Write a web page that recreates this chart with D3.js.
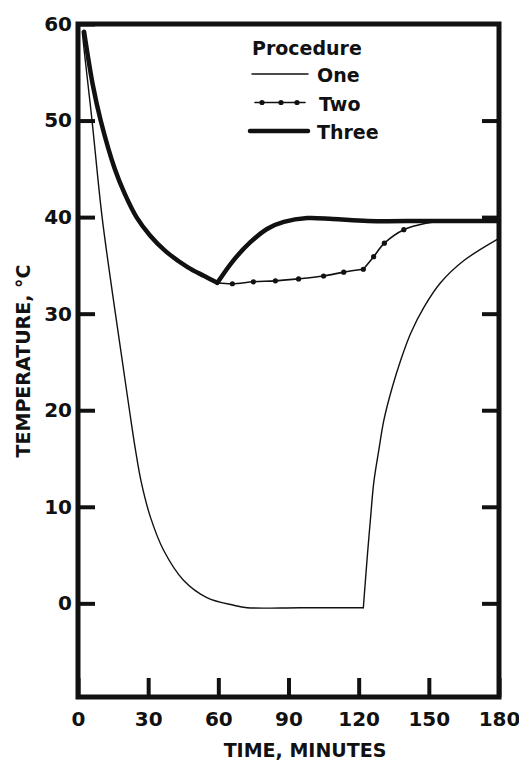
<!DOCTYPE html>
<html>
<head>
<meta charset="utf-8">
<script src="https://cdn.jsdelivr.net/npm/d3@7"></script>
<style>
  body { margin: 0; background: #fff; }
  svg text { font-family: "DejaVu Sans", sans-serif; font-weight: bold; fill: #111; }
</style>
</head>
<body>
<svg id="chart" width="519" height="761"></svg>
<script>
// values (minutes, degrees C)
const oneTime = [1.8, 2.9, 6.0, 10.3, 16, 19, 22, 24.5, 27, 31, 36.6, 45.1, 55.1, 66.6, 72.3, 95, 122,
                 123.8, 125, 126.5, 128.7, 130.8, 134.4, 138, 142.3, 148, 155, 165, 180];
const oneTemp = [59.2, 56.7, 50, 40, 30, 25, 20, 16, 12.6, 8.9, 5.5, 2.4, 0.6, -0.2, -0.45, -0.45, -0.45,
                 5.2, 8.6, 12.6, 16.0, 19, 22.4, 25.2, 28, 30.7, 33.2, 35.5, 37.8];
const oneCorners = [122];

const twoTime = [59.6, 66, 75, 84.4, 94.3, 105, 113.6, 122, 126.4, 131, 139.3, 149.5, 156, 180];
const twoTemp = [33.2, 33.1, 33.3, 33.4, 33.6, 33.9, 34.3, 34.6, 35.9, 37.3, 38.7, 39.4, 39.6, 39.6];
const twoCorners = [122];
const twoMarked = [66, 75, 84.4, 94.3, 105, 113.6, 122, 126.4, 131, 139.3];

const threeTime = [2.6, 6.4, 9.7, 15.7, 20, 25, 30.8, 37.3, 47, 54, 59.6,
                   66.4, 73.7, 81, 88, 98, 109, 124, 150, 180];
const threeTemp = [59.2, 53.6, 50, 45, 42.4, 40, 38.1, 36.5, 34.8, 33.9, 33.2,
                   35.5, 37.4, 38.8, 39.5, 39.9, 39.8, 39.6, 39.6, 39.6];
const threeCorners = [59.6];

const xTicks = [0, 30, 60, 90, 120, 150, 180];
const yTicks = [0, 10, 20, 30, 40, 50, 60];
const legendLabels = ["One", "Two", "Three"];

const svg = d3.select("#chart");
const x = d3.scaleLinear().domain([0, 180]).range([78, 499]);
const y = d3.scaleLinear().domain([-9.7, 60]).range([697, 24]);

function zip(ts, vs) {
    return ts.map((t, i) => ({ t: t, v: vs[i] }));
}

// split a series at its sharp corners, each piece keeps the corner point
function pieces(data, corners) {
    let out = [], cur = [];
    data.forEach(d => {
        cur.push(d);
        if (corners.indexOf(d.t) >= 0) {
            out.push(cur);
            cur = [d];
        }
    });
    if (cur.length > 1) out.push(cur);
    return out;
}

const line = d3.line()
    .x(d => x(d.t))
    .y(d => y(d.v))
    .curve(d3.curveCatmullRom.alpha(0.5));

function drawSeries(data, corners, width, cls) {
    svg.append("g").attr("class", cls)
        .selectAll("path")
        .data(pieces(data, corners))
        .join("path")
        .attr("d", line)
        .attr("fill", "none")
        .attr("stroke", "#111")
        .attr("stroke-width", width)
        .attr("stroke-linecap", "round")
        .attr("stroke-linejoin", "round");
}

const one = zip(oneTime, oneTemp);
const two = zip(twoTime, twoTemp);
const three = zip(threeTime, threeTemp);

drawSeries(one, oneCorners, 1.4, "one");
drawSeries(two, twoCorners, 1.6, "two");

svg.append("g").attr("class", "two-dots")
    .selectAll("circle")
    .data(two.filter(d => twoMarked.indexOf(d.t) >= 0))
    .join("circle")
    .attr("cx", d => x(d.t))
    .attr("cy", d => y(d.v))
    .attr("r", 2.6)
    .attr("fill", "#111");

drawSeries(three, threeCorners, 4.5, "three");

// axes, ticks pointing inward
function styleAxis(g) {
    g.select(".domain").remove();
    g.selectAll(".tick line").attr("stroke", "#111").attr("stroke-width", 4);
    g.selectAll(".tick text").attr("font-size", 20).attr("fill", "#111")
        .attr("font-family", "DejaVu Sans").attr("font-weight", "bold");
}

svg.append("g")
    .attr("transform", "translate(78,0)")
    .call(d3.axisLeft(y).tickValues(yTicks).tickSize(-17).tickPadding(6))
    .call(styleAxis);

svg.append("g")
    .attr("transform", "translate(499,0)")
    .call(d3.axisRight(y).tickValues(yTicks.slice(0, 6)).tickSize(-17).tickFormat(""))
    .call(styleAxis);

svg.append("g")
    .attr("transform", "translate(0,697)")
    .call(d3.axisBottom(x).tickValues(xTicks).tickSize(-19).tickPadding(15))
    .call(styleAxis);

// frame
svg.append("rect")
    .attr("x", x(0)).attr("y", y(60))
    .attr("width", x(180) - x(0)).attr("height", y(-9.7) - y(60))
    .attr("fill", "none")
    .attr("stroke", "#111")
    .attr("stroke-width", 5);

// axis titles
svg.append("text")
    .attr("x", 305).attr("y", 757)
    .attr("text-anchor", "middle")
    .attr("font-size", 19)
    .text("TIME, MINUTES");

svg.append("text")
    .attr("transform", "translate(30,361) rotate(-90)")
    .attr("text-anchor", "middle")
    .attr("font-size", 19)
    .text("TEMPERATURE, °C");

// legend
const legend = svg.append("g").attr("class", "legend");
legend.append("text").attr("x", 252).attr("y", 55).attr("font-size", 19).text("Procedure");

const rows = legend.selectAll("g.row")
    .data(legendLabels)
    .join("g")
    .attr("class", "row")
    .attr("transform", (d, i) => `translate(0,${74 + i * 28.5})`);

rows.append("line")
    .attr("x1", (d, i) => [252, 255, 250][i])
    .attr("x2", (d, i) => [308, 305, 308][i])
    .attr("stroke", "#111")
    .attr("stroke-width", (d, i) => [1.4, 1.6, 4.5][i])
    .attr("stroke-linecap", "round");

rows.filter((d, i) => i === 1)
    .selectAll("circle")
    .data([262, 281, 297])
    .join("circle")
    .attr("cx", d => d)
    .attr("r", 2.6)
    .attr("fill", "#111");

rows.append("text")
    .attr("x", (d, i) => [317, 319, 317][i])
    .attr("y", 8)
    .attr("font-size", 19)
    .text(d => d);
</script>
</body>
</html>
